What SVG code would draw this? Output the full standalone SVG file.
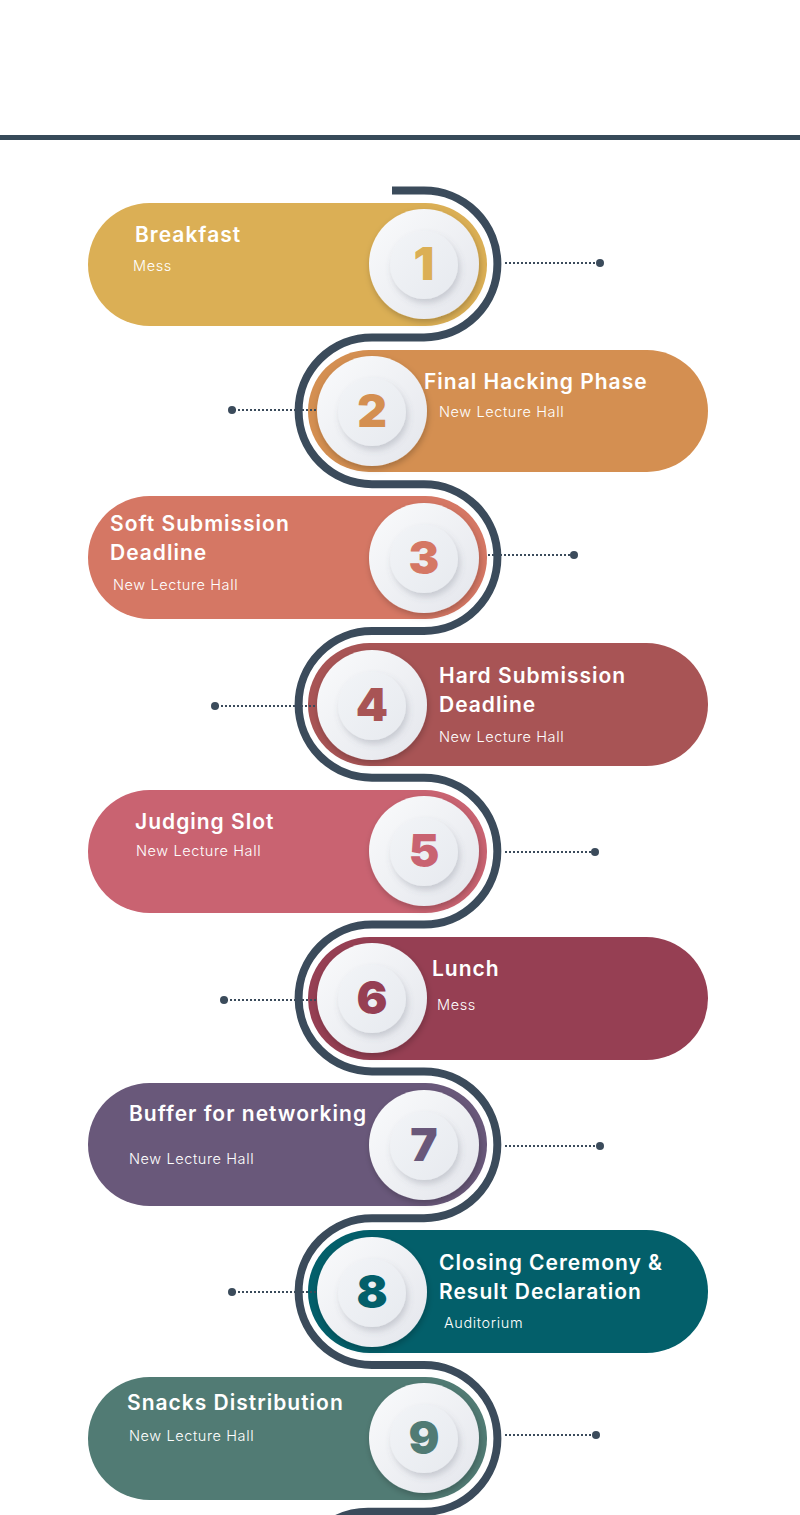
<svg xmlns="http://www.w3.org/2000/svg" width="800" height="1515" viewBox="0 0 800 1515">
  <defs>
    <style>
      .title { font-family: Inter, "Liberation Sans", sans-serif; font-weight: 600; font-size: 21px; letter-spacing: 1px; fill: #ffffff; }
      .sub { font-family: Inter, "Liberation Sans", sans-serif; font-weight: 300; font-size: 14.5px; letter-spacing: 0.6px; fill: #ffffff; }
      .num { font-family: Inter, "Liberation Sans", sans-serif; font-weight: 900; font-size: 46px; text-anchor: middle; }
      .track { fill: none; stroke: #3b4b5b; stroke-width: 8; }
      .dots { fill: none; stroke: #3b4b5b; stroke-width: 2; stroke-dasharray: 2 2; }
      .dot { fill: #3b4b5b; }
    </style>
    <linearGradient id="discOuter" x1="0" y1="0" x2="1" y2="1">
      <stop offset="0" stop-color="#fafbfc"/>
      <stop offset="1" stop-color="#e4e6ec"/>
    </linearGradient>
    <linearGradient id="discInner" x1="0" y1="0" x2="1" y2="1">
      <stop offset="0" stop-color="#f2f4f7"/>
      <stop offset="1" stop-color="#e7eaef"/>
    </linearGradient>
    <filter id="shadowOuter" x="-30%" y="-30%" width="160%" height="160%">
      <feDropShadow dx="1" dy="3" stdDeviation="3" flood-color="#000" flood-opacity="0.22"/>
    </filter>
    <filter id="shadowInner" x="-30%" y="-30%" width="160%" height="160%">
      <feDropShadow dx="2" dy="4" stdDeviation="3" flood-color="#5a6075" flood-opacity="0.25"/>
    </filter>
    <g id="disc">
      <circle r="55" fill="url(#discOuter)" filter="url(#shadowOuter)"/>
      <circle r="34" cy="1" fill="url(#discInner)" filter="url(#shadowInner)"/>
    </g>
  </defs>

  <rect width="800" height="1515" fill="#ffffff"/>
  <rect x="0" y="135" width="800" height="5" fill="#374a59"/>

  <!-- pill bodies with their labels -->
  <g id="node-1">
    <rect x="88" y="203" width="399" height="123" rx="61.5" fill="#dbaf55"/>
    <text class="title" x="135" y="242">Breakfast</text>
    <text class="sub" x="133" y="271">Mess</text>
  </g>
  <g id="node-2">
    <rect x="308" y="350" width="400" height="122" rx="61" fill="#d48f51"/>
    <text class="title" x="424" y="389">Final Hacking Phase</text>
    <text class="sub" x="439" y="417">New Lecture Hall</text>
  </g>
  <g id="node-3">
    <rect x="88" y="496" width="399" height="123" rx="61.5" fill="#d57764"/>
    <text class="title" x="110" y="531">Soft Submission</text>
    <text class="title" x="110" y="560">Deadline</text>
    <text class="sub" x="113" y="590">New Lecture Hall</text>
  </g>
  <g id="node-4">
    <rect x="308" y="643" width="400" height="123" rx="61.5" fill="#a85455"/>
    <text class="title" x="439" y="683">Hard Submission</text>
    <text class="title" x="439" y="712">Deadline</text>
    <text class="sub" x="439" y="742">New Lecture Hall</text>
  </g>
  <g id="node-5">
    <rect x="88" y="790" width="399" height="123" rx="61.5" fill="#c96371"/>
    <text class="title" x="135" y="829">Judging Slot</text>
    <text class="sub" x="136" y="856">New Lecture Hall</text>
  </g>
  <g id="node-6">
    <rect x="308" y="937" width="400" height="123" rx="61.5" fill="#963f53"/>
    <text class="title" x="432" y="976">Lunch</text>
    <text class="sub" x="437" y="1010">Mess</text>
  </g>
  <g id="node-7">
    <rect x="88" y="1083" width="399" height="123" rx="61.5" fill="#69587a"/>
    <text class="title" x="129" y="1121">Buffer for networking</text>
    <text class="sub" x="129" y="1164">New Lecture Hall</text>
  </g>
  <g id="node-8">
    <rect x="308" y="1230" width="400" height="123" rx="61.5" fill="#035f6a"/>
    <text class="title" x="439" y="1270">Closing Ceremony &amp;</text>
    <text class="title" x="439" y="1299">Result Declaration</text>
    <text class="sub" x="444" y="1328">Auditorium</text>
  </g>
  <g id="node-9">
    <rect x="88" y="1377" width="399" height="123" rx="61.5" fill="#517b74"/>
    <text class="title" x="127" y="1410">Snacks Distribution</text>
    <text class="sub" x="129" y="1441">New Lecture Hall</text>
  </g>

  <!-- dotted leaders -->
  <g id="connectors">
    <path class="dots" d="M505,263 H598"/><circle class="dot" cx="600" cy="263" r="4"/>
    <path class="dots" d="M234,410 H318"/><circle class="dot" cx="232" cy="410" r="4"/>
    <path class="dots" d="M488,555 H572"/><circle class="dot" cx="574" cy="555" r="4"/>
    <path class="dots" d="M217,706 H318"/><circle class="dot" cx="215" cy="706" r="4"/>
    <path class="dots" d="M505,852 H593"/><circle class="dot" cx="595" cy="852" r="4"/>
    <path class="dots" d="M226,1000 H318"/><circle class="dot" cx="224" cy="1000" r="4"/>
    <path class="dots" d="M505,1146 H598"/><circle class="dot" cx="600" cy="1146" r="4"/>
    <path class="dots" d="M234,1292 H318"/><circle class="dot" cx="232" cy="1292" r="4"/>
    <path class="dots" d="M505,1435 H594"/><circle class="dot" cx="596" cy="1435" r="4"/>
  </g>

  <!-- serpentine track -->
  <path id="track" class="track" d="M392,190.6 H424 A73.4,73.4 0 0 1 424,337.4 H372 A73.4,73.4 0 0 0 372,484.2 H424 A73.4,73.4 0 0 1 424,631 H372 A73.4,73.4 0 0 0 372,777.8 H424 A73.4,73.4 0 0 1 424,924.6 H372 A73.4,73.4 0 0 0 372,1071.4 H424 A73.4,73.4 0 0 1 424,1218.2 H372 A73.4,73.4 0 0 0 372,1365 H424 A73.4,73.4 0 0 1 424,1511.8 H372 A73.4,73.4 0 0 0 320,1530"/>

  <!-- numbered discs -->
  <g id="badges">
    <g transform="translate(424,264)"><use href="#disc"/><text class="num" y="16" fill="#dbaf55">1</text></g>
    <g transform="translate(372,411)"><use href="#disc"/><text class="num" y="16" fill="#d48f51">2</text></g>
    <g transform="translate(424,558)"><use href="#disc"/><text class="num" y="16" fill="#d57764">3</text></g>
    <g transform="translate(372,705)"><use href="#disc"/><text class="num" y="16" fill="#a85455">4</text></g>
    <g transform="translate(424,851)"><use href="#disc"/><text class="num" y="16" fill="#c96371">5</text></g>
    <g transform="translate(372,998)"><use href="#disc"/><text class="num" y="16" fill="#963f53">6</text></g>
    <g transform="translate(424,1145)"><use href="#disc"/><text class="num" y="16" fill="#69587a">7</text></g>
    <g transform="translate(372,1292)"><use href="#disc"/><text class="num" y="16" fill="#035f6a">8</text></g>
    <g transform="translate(424,1438)"><use href="#disc"/><text class="num" y="16" fill="#517b74">9</text></g>
  </g>
</svg>
